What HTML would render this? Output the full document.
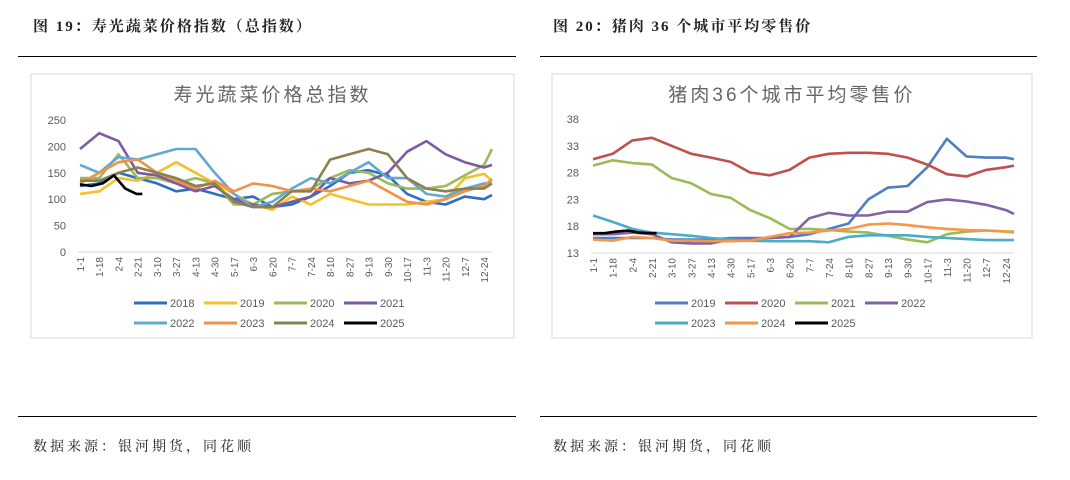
<!DOCTYPE html>
<html><head><meta charset="utf-8">
<style>
body{margin:0;width:1070px;height:480px;background:#fff;position:relative;overflow:hidden;font-family:"Liberation Sans","Noto Sans CJK SC",sans-serif}
.hd{position:absolute;top:15px;font-size:15px;font-weight:bold;color:#222;letter-spacing:2px;font-family:"Liberation Serif","Noto Serif CJK SC",serif}
.ln{position:absolute;height:1px;background:#000}
.src{position:absolute;top:436px;font-size:14px;color:#222;letter-spacing:3px;font-family:"Liberation Serif","Noto Serif CJK SC",serif}
svg{position:absolute;left:0;top:0}
</style></head><body>
<div class="hd" style="left:33px">图 19：寿光蔬菜价格指数（总指数）</div>
<div class="hd" style="left:553px">图 20：猪肉 36 个城市平均零售价</div>
<div class="ln" style="left:18px;width:498px;top:56px"></div>
<div class="ln" style="left:540px;width:497px;top:56px"></div>
<div class="ln" style="left:18px;width:498px;top:416px"></div>
<div class="ln" style="left:540px;width:497px;top:416px"></div>
<div class="src" style="left:33px">数据来源：银河期货，同花顺</div>
<div class="src" style="left:553px">数据来源：银河期货，同花顺</div>
<svg id="s" width="1070" height="480"></svg>
<script>
const xLabels=["1-1","1-18","2-4","2-21","3-10","3-27","4-13","4-30","5-17","6-3","6-20","7-7","7-24","8-10","8-27","9-13","9-30","10-17","11-3","11-20","12-7","12-24"];
const days=[0,17,34,51,68,85,102,119,136,153,170,187,204,221,238,255,272,289,306,323,340,357,364];
const days2025=[0,10,20,30,40,50,55];
const vegYears=["2018","2019","2020","2021","2022","2023","2024","2025"];
const veg2018=[125,130,150,140,130,115,120,110,100,105,85,90,105,125,150,155,145,110,95,90,105,100,108];
const veg2019=[110,115,140,135,150,170,150,130,110,90,80,105,90,110,100,90,90,90,95,100,140,148,135];
const veg2020=[140,140,185,140,140,130,140,130,90,90,110,115,120,140,155,150,130,120,120,125,145,165,195];
const veg2021=[195,225,210,150,145,130,115,125,100,90,85,95,105,140,130,135,150,190,210,185,170,160,165];
const veg2022=[165,150,180,175,185,195,195,150,110,85,95,120,140,130,150,170,140,140,110,105,120,130,130];
const veg2023=[130,150,170,175,150,135,120,135,115,130,125,115,120,115,125,135,115,95,90,100,115,125,138];
const veg2024=[135,135,150,160,150,140,125,130,95,85,85,115,115,175,185,195,185,140,120,115,120,120,130];
const veg2025=[128,125,130,145,120,110,110];
const vegTicks=[0,50,100,150,200,250];
const porkYears=["2019","2020","2021","2022","2023","2024","2025"];
const pork2019=[15.8,15.8,15.8,15.8,15.5,15.5,15.5,15.8,15.8,15.8,16,16.5,17.5,18.5,23,25.2,25.5,29,34.3,31,30.8,30.8,30.5];
const pork2020=[30.5,31.5,34,34.5,33,31.5,30.8,30,28,27.5,28.5,30.8,31.5,31.7,31.7,31.5,30.8,29.5,27.7,27.3,28.5,29,29.3];
const pork2021=[29.3,30.3,29.8,29.5,27,26,24,23.3,21,19.5,17.5,17.5,17.3,17,16.8,16.2,15.5,15,16.5,17,17.2,17,17];
const pork2022=[16.5,16.5,16.8,16.5,15,14.8,14.8,15.5,15.5,15.8,16,19.5,20.5,20,20,20.7,20.7,22.5,23,22.6,22,21,20.3];
const pork2023=[20,18.8,17.5,16.8,16.5,16.2,15.8,15.5,15.3,15.2,15.2,15.2,15,16,16.3,16.3,16.3,16,15.8,15.6,15.4,15.4,15.4];
const pork2024=[15.5,15.3,16,15.8,15.3,15.3,15.2,15.2,15.3,16,16.7,16.8,17.2,17.5,18.3,18.5,18.2,17.8,17.5,17.3,17.2,17,16.8];
const pork2025=[16.7,16.7,17,17.2,16.8,16.7,16.7];
const porkTicks=[13,18,23,28,33,38];

const NS="http://www.w3.org/2000/svg";
const svg=document.getElementById('s');
function mk(t,a,p){const e=document.createElementNS(NS,t);for(const k in a)e.setAttribute(k,a[k]);(p||svg).appendChild(e);return e;}
function chart(o){
  const g=mk('g',{});
  
  
  const fr=mk('rect',{x:o.fx,y:74,width:o.fw,height:264,fill:'#fff',stroke:'#d9d9d9'},g);
  
  
  const t=mk('text',{x:o.fx+o.fw/2,y:101,'text-anchor':'middle','font-size':19,fill:'#666','letter-spacing':3},g);
  t.textContent=o.title;
  
  
  const x=d=>o.x0+(o.x1-o.x0)*d/364;
  const y=v=>o.y0-(o.y0-o.y1)*(v-o.ticks[0])/(o.ticks[o.ticks.length-1]-o.ticks[0]);
  o.ticks.forEach(v=>{const tx=mk('text',{x:o.x0-14,y:y(v)+4,'text-anchor':'end','font-size':11,fill:'#595959'},g);tx.textContent=v;
    
    });
  const ax=mk('line',{x1:o.x0-2,x2:o.x1,y1:o.y0,y2:o.y0,stroke:'#d9d9d9'},g);
  
  
  xLabels.forEach((l,i)=>{const xx=x(i*17)+4;const tx=mk('text',{x:0,y:0,transform:`translate(${xx},${o.y0+5}) rotate(-90)`,'text-anchor':'end','font-size':10,fill:'#595959'},g);tx.textContent=l;
    
    });
  o.series.forEach((s,i)=>{
    const ds=s.d.length===days.length?days:days2025;
    const pts=s.d.map((v,j)=>x(ds[j]).toFixed(1)+','+y(v).toFixed(1)).join(' ');
    const pl=mk('polyline',{points:pts,fill:'none',stroke:s.c,'stroke-width':2.6,'stroke-linejoin':'round'},g);
    
    
    const r=Math.floor(i/4),c=i%4;
    const lx=o.lx+c*70,ly=303+r*20;
    const ll=mk('line',{x1:lx,x2:lx+33,y1:ly,y2:ly,stroke:s.c,'stroke-width':3},g);
    
    
    const lt=mk('text',{x:lx+36,y:ly+4,'font-size':11,fill:'#595959'},g);lt.textContent=s.n;
    
    
  });
}
const vc=["#2E6DC0","#F5C02C","#9BBB59","#7B5AA6","#62A9CF","#F0914C","#8B8050","#000"];
const vd=[veg2018,veg2019,veg2020,veg2021,veg2022,veg2023,veg2024,veg2025];
chart({name:'vegetable-index-chart',title:'寿光蔬菜价格总指数',fx:31,fw:483,x0:80,x1:492,y0:252,y1:120,ticks:vegTicks,lx:134,
  series:vegYears.map((n,i)=>({n,c:vc[i],d:vd[i]}))});
const pc=["#4F7EC3","#C0504D","#9BBB59","#8064A2","#4BACC6","#F79646","#000"];
const pd=[pork2019,pork2020,pork2021,pork2022,pork2023,pork2024,pork2025];
chart({name:'pork-price-chart',title:'猪肉36个城市平均零售价',fx:552,fw:480,x0:593,x1:1014,y0:253,y1:119,ticks:porkTicks,lx:655,
  series:porkYears.map((n,i)=>({n,c:pc[i],d:pd[i]}))});
</script>
</body></html>
